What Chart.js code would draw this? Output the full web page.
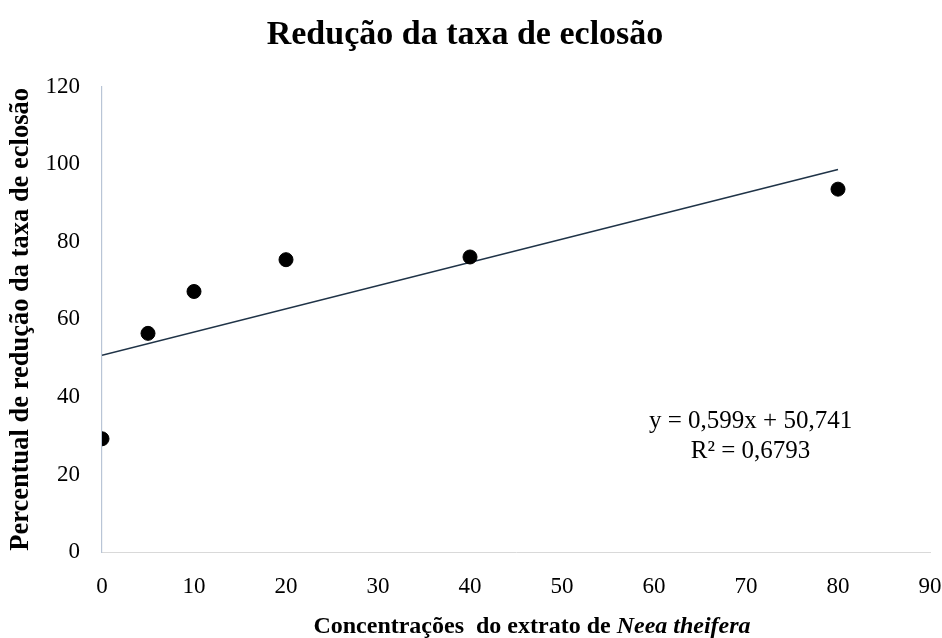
<!DOCTYPE html>
<html lang="pt">
<head>
    <meta charset="UTF-8">
    <title>Redução da taxa de eclosão</title>
    <style>
        html, body {
            margin: 0;
            padding: 0;
            background-color: #ffffff;
        }
        #chart-box {
            width: 942px;
            height: 638px;
        }
    </style>
</head>
<body>
    <div id="chart-box"><canvas id="chart"></canvas></div>

    <script src="https://cdn.jsdelivr.net/npm/chart.js"></script>

    <script>
        // values
        const concentrations = [0, 5, 10, 20, 40, 80];
        const reduction = [29.2, 56.4, 67.2, 75.4, 76.1, 93.6];

        // linear trend line end points (y = 0,599x + 50,741)
        const trendX = [0, 80];
        const trendY = [50.74, 98.66];

        const xTicks = [0, 10, 20, 30, 40, 50, 60, 70, 80, 90];
        const yTicks = [0, 20, 40, 60, 80, 100, 120];

        const equationLines = ['y = 0,599x + 50,741', 'R² = 0,6793'];
        const xTitleMain = 'Concentrações  do extrato de ';
        const xTitleItalic = 'Neea theifera';

        const serif = "'Liberation Serif', 'Times New Roman', serif";

        // equation text and the mixed upright/italic x title
        const extraText = {
            id: 'extraText',
            afterDraw(chart) {
                const ctx = chart.ctx;
                const x = chart.scales.x;
                const y = chart.scales.y;
                ctx.save();
                ctx.fillStyle = '#000';
                ctx.textAlign = 'center';
                ctx.textBaseline = 'middle';
                ctx.font = '25px ' + serif;
                ctx.fillText(equationLines[0], x.getPixelForValue(70.5), y.getPixelForValue(33.6));
                ctx.fillText(equationLines[1], x.getPixelForValue(70.5), y.getPixelForValue(26));

                ctx.font = 'bold 24px ' + serif;
                const w1 = ctx.measureText(xTitleMain).width;
                ctx.font = 'italic bold 24px ' + serif;
                const w2 = ctx.measureText(xTitleItalic).width;
                const cx = (chart.chartArea.left + chart.chartArea.right) / 2 + 16;
                const left = cx - (w1 + w2) / 2;
                ctx.textAlign = 'left';
                ctx.font = 'bold 24px ' + serif;
                ctx.fillText(xTitleMain, left, 627);
                ctx.font = 'italic bold 24px ' + serif;
                ctx.fillText(xTitleItalic, left + w1, 627);
                ctx.restore();
            }
        };

        const points = concentrations.map((c, i) => ({ x: c, y: reduction[i] }));
        const trend = trendX.map((c, i) => ({ x: c, y: trendY[i] }));

        new Chart(document.getElementById('chart').getContext('2d'), {
            type: 'scatter',
            data: {
                datasets: [
                    {
                        label: 'Redução',
                        data: points,
                        backgroundColor: '#000000',
                        borderColor: '#000000',
                        pointRadius: 7,
                        pointHoverRadius: 7
                    },
                    {
                        label: 'Linear',
                        type: 'line',
                        data: trend,
                        borderColor: '#1f3347',
                        borderWidth: 1.6,
                        pointRadius: 0,
                        fill: false
                    }
                ]
            },
            options: {
                responsive: true,
                maintainAspectRatio: false,
                animation: false,
                layout: {
                    padding: { left: 0, right: 12, top: 0, bottom: 0 }
                },
                plugins: {
                    legend: { display: false },
                    tooltip: { enabled: false },
                    title: {
                        display: true,
                        text: 'Redução da taxa de eclosão',
                        color: '#000',
                        font: { family: serif, size: 34, weight: 'bold' },
                        padding: { top: 15, bottom: 31 }
                    }
                },
                scales: {
                    x: {
                        type: 'linear',
                        min: xTicks[0],
                        max: xTicks[xTicks.length - 1],
                        afterBuildTicks: axis => { axis.ticks = xTicks.map(v => ({ value: v })); },
                        afterFit: axis => {
                            axis.height = 86;
                            axis.paddingLeft = 0;
                            axis.paddingRight = 0;
                        },
                        grid: { display: false, drawTicks: false },
                        border: { display: true, color: '#d9d9d9', width: 1 },
                        ticks: {
                            color: '#000',
                            padding: 21,
                            maxRotation: 0,
                            font: { family: serif, size: 23 }
                        }
                    },
                    y: {
                        type: 'linear',
                        min: yTicks[0],
                        max: yTicks[yTicks.length - 1],
                        afterBuildTicks: axis => { axis.ticks = yTicks.map(v => ({ value: v })); },
                        afterFit: axis => {
                            axis.width = 102;
                            axis.paddingTop = 0;
                            axis.paddingBottom = 0;
                        },
                        grid: { display: false, drawTicks: false },
                        border: { display: true, color: '#b9c5d6', width: 1.2 },
                        ticks: {
                            color: '#000',
                            padding: 22,
                            font: { family: serif, size: 23 }
                        },
                        title: {
                            display: true,
                            text: 'Percentual de redução da taxa de eclosão',
                            color: '#000',
                            font: { family: serif, size: 26.5, weight: 'bold' },
                            padding: { top: 5, bottom: 0 }
                        }
                    }
                }
            },
            plugins: [extraText]
        });
    </script>
</body>
</html>
